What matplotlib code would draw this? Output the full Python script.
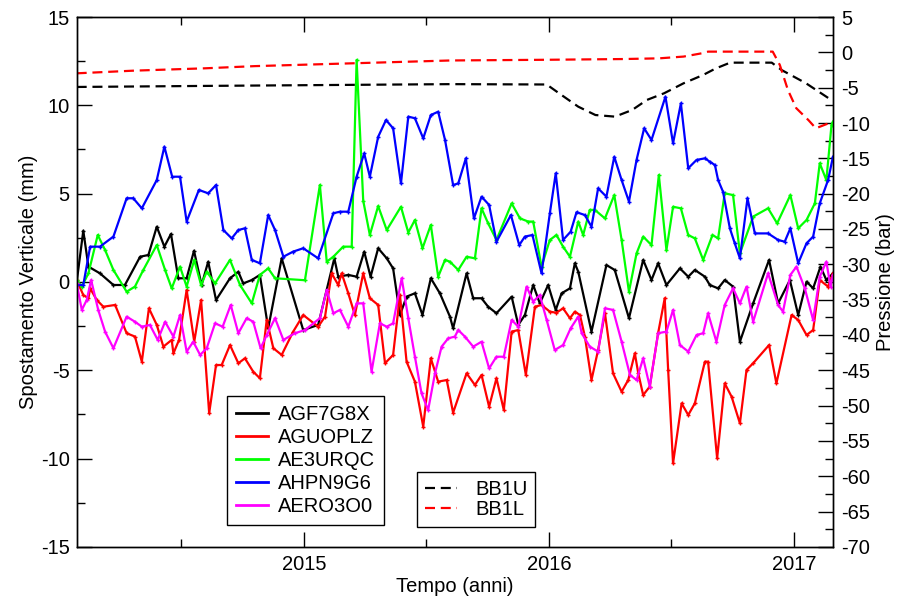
import matplotlib
matplotlib.use('Agg')
import matplotlib.pyplot as plt
from matplotlib.ticker import MultipleLocator, FuncFormatter
from matplotlib.lines import Line2D

plt.rcParams['font.family'] = ['Liberation Sans', 'DejaVu Sans']
plt.rcParams['axes.unicode_minus'] = False

# ---------------- data ----------------
agf_t = [2014.072, 2014.099, 2014.120, 2014.167, 2014.222, 2014.269, 2014.331, 2014.365, 2014.399, 2014.430,
         2014.457, 2014.487, 2014.521, 2014.551, 2014.582, 2014.609, 2014.641, 2014.698, 2014.732, 2014.752,
         2014.787, 2014.820, 2014.854, 2014.909, 2014.997, 2015.058, 2015.124, 2015.140, 2015.181, 2015.215,
         2015.246, 2015.272, 2015.303, 2015.338, 2015.364, 2015.392, 2015.419, 2015.453, 2015.484, 2015.518,
         2015.555, 2015.596, 2015.609, 2015.664, 2015.691, 2015.725, 2015.752, 2015.786, 2015.848, 2015.875,
         2015.902, 2015.936, 2015.963, 2015.997, 2016.028, 2016.052, 2016.086, 2016.106, 2016.120, 2016.174,
         2016.235, 2016.269, 2016.327, 2016.385, 2016.419, 2016.446, 2016.480, 2016.535, 2016.569, 2016.596,
         2016.637, 2016.657, 2016.691, 2016.718, 2016.752, 2016.780, 2016.834, 2016.899, 2016.936, 2016.984,
         2017.018, 2017.052, 2017.079, 2017.109, 2017.133, 2017.160]
agf_v = [0.0, 2.9, 0.87, 0.49, -0.17, -0.17, 1.43, 1.53, 3.13, 2.0,
         2.72, 0.21, 0.21, 1.77, -0.17, 1.15, -1.02, 0.21, 0.58, -0.08,
         0.11, 0.40, -2.62, 1.34, -2.72, -2.43, 1.34, 0.30, 0.40, 0.30,
         1.72, 0.30, 1.91, 1.34, 0.77, -1.87, -0.83, -0.64, -1.87, 0.21,
         -0.64, -1.96, -2.62, 0.49, -0.92, -0.92, -1.40, -1.77, -0.83, -2.43,
         -1.87, -0.17, -1.21, -0.17, -1.58, -0.64, -0.36, 1.06, 0.58, -2.81,
         0.96, 0.68, -2.05, 1.25, 0.11, 1.06, -0.17, 0.77, 0.30, 0.68,
         0.30, -0.17, -0.36, 0.11, -0.26, -3.38, -1.21, 1.25, -1.21, 0.11,
         -1.87, 0.02, -0.36, 0.87, 0.11, 0.49]

agu_t = [2014.072, 2014.099, 2014.120, 2014.127, 2014.154, 2014.181, 2014.229, 2014.276, 2014.310, 2014.338,
         2014.367, 2014.399, 2014.426, 2014.460, 2014.467, 2014.490, 2014.521, 2014.552, 2014.580, 2014.613,
         2014.641, 2014.664, 2014.698, 2014.732, 2014.759, 2014.793, 2014.820, 2014.848, 2014.875, 2014.909,
         2014.956, 2014.997, 2015.058, 2015.086, 2015.113, 2015.140, 2015.154, 2015.181, 2015.208, 2015.242,
         2015.269, 2015.303, 2015.331, 2015.364, 2015.392, 2015.419, 2015.453, 2015.487, 2015.518, 2015.548,
         2015.583, 2015.609, 2015.664, 2015.698, 2015.725, 2015.756, 2015.786, 2015.816, 2015.848, 2015.875,
         2015.906, 2015.943, 2015.970, 2016.004, 2016.031, 2016.058, 2016.086, 2016.106, 2016.127, 2016.147,
         2016.174, 2016.201, 2016.229, 2016.262, 2016.297, 2016.324, 2016.351, 2016.365, 2016.385, 2016.412,
         2016.446, 2016.473, 2016.487, 2016.507, 2016.542, 2016.569, 2016.596, 2016.637, 2016.650, 2016.687,
         2016.718, 2016.746, 2016.780, 2016.807, 2016.834, 2016.899, 2016.929, 2016.991, 2017.018, 2017.052,
         2017.079, 2017.106, 2017.140, 2017.160]
agu_v = [0.11, -0.74, -0.92, -0.36, -1.02, -1.40, -1.30, -2.90, -3.09, -4.51,
         -1.49, -2.43, -3.66, -3.28, -4.04, -3.28, -0.45, -3.38, -1.02, -7.43,
         -4.70, -4.70, -3.57, -4.60, -4.32, -5.08, -5.45, -2.15, -3.75, -4.13,
         -2.81, -1.87, -2.53, -1.96, 0.49, -0.17, 0.49, -0.64, -1.87, 0.49,
         -0.92, -1.30, -4.60, -4.13, -0.74, -4.51, -5.64, -8.19, -4.32, -5.64,
         -5.55, -7.40, -5.17, -5.83, -5.26, -7.06, -5.45, -7.25, -2.81, -2.72,
         -5.26, -1.40, -1.30, -1.68, -1.74, -1.49, -2.05, -1.68, -1.87, -3.09,
         -5.55, -3.85, -1.77, -5.17, -6.21, -5.55, -4.04, -5.17, -6.40, -5.92,
         -2.90, -0.92, -4.98, -10.26, -6.87, -7.53, -6.87, -4.51, -4.51, -9.98,
         -5.74, -6.49, -8.00, -4.98, -4.60, -3.57, -5.74, -1.87, -2.15, -3.00,
         -2.72, 0.11, -0.26, 0.49]

ae3_t = [2014.072, 2014.093, 2014.120, 2014.158, 2014.188, 2014.222, 2014.276, 2014.310, 2014.344, 2014.399,
         2014.433, 2014.460, 2014.494, 2014.521, 2014.552, 2014.580, 2014.603, 2014.637, 2014.698, 2014.739,
         2014.787, 2014.820, 2014.854, 2014.882, 2015.004, 2015.065, 2015.093, 2015.120, 2015.160, 2015.195,
         2015.215, 2015.242, 2015.269, 2015.303, 2015.338, 2015.396, 2015.426, 2015.453, 2015.484, 2015.518,
         2015.548, 2015.576, 2015.596, 2015.630, 2015.664, 2015.698, 2015.725, 2015.752, 2015.786, 2015.848,
         2015.882, 2015.916, 2015.936, 2015.970, 2016.004, 2016.031, 2016.058, 2016.086, 2016.120, 2016.140,
         2016.167, 2016.188, 2016.229, 2016.267, 2016.297, 2016.327, 2016.358, 2016.385, 2016.419, 2016.449,
         2016.480, 2016.507, 2016.539, 2016.569, 2016.596, 2016.630, 2016.668, 2016.691, 2016.718, 2016.752,
         2016.780, 2016.834, 2016.895, 2016.932, 2016.986, 2017.018, 2017.052, 2017.086, 2017.106, 2017.133,
         2017.154, 2017.160]
ae3_v = [0.11, -0.26, 0.49, 2.66, 1.81, 0.68, -0.55, -0.26, 0.68, 2.09,
         0.68, -0.36, 0.87, -0.26, 1.25, -0.17, 0.58, -0.08, 1.25, -0.17,
         -1.21, 0.40, 0.77, 0.21, 0.10, 5.49, 1.15, 1.43, 2.00, 2.00,
         12.57, 4.60, 2.66, 4.30, 2.94, 4.26, 2.80, 3.51, 1.91, 3.23,
         0.30, 1.25, 1.15, 0.68, 1.43, 1.34, 4.17, 3.32, 2.38, 4.45,
         3.60, 3.42, 3.42, 0.87, 2.38, 2.66, 2.00, 1.43, 3.42, 2.66,
         4.08, 4.08, 3.60, 4.92, 2.38, -0.55, 1.62, 2.57, 2.09, 6.06,
         1.81, 4.26, 4.17, 2.66, 2.47, 1.25, 2.66, 2.47, 5.02, 4.92,
         1.62, 3.70, 4.17, 3.32, 4.92, 3.04, 3.51, 4.45, 6.72, 5.77,
         8.89, 9.08]

ahp_t = [2014.072, 2014.099, 2014.127, 2014.167, 2014.222, 2014.276, 2014.303, 2014.338, 2014.399, 2014.430,
         2014.462, 2014.494, 2014.521, 2014.571, 2014.609, 2014.641, 2014.671, 2014.705, 2014.732, 2014.759,
         2014.787, 2014.820, 2014.854, 2014.882, 2014.916, 2014.956, 2014.997, 2015.058, 2015.120, 2015.147,
         2015.181, 2015.215, 2015.246, 2015.269, 2015.303, 2015.335, 2015.364, 2015.396, 2015.426, 2015.453,
         2015.487, 2015.518, 2015.548, 2015.576, 2015.609, 2015.630, 2015.661, 2015.694, 2015.725, 2015.756,
         2015.786, 2015.845, 2015.879, 2015.902, 2015.933, 2015.970, 2016.004, 2016.028, 2016.058, 2016.089,
         2016.113, 2016.147, 2016.174, 2016.201, 2016.235, 2016.267, 2016.297, 2016.327, 2016.358, 2016.389,
         2016.419, 2016.476, 2016.507, 2016.539, 2016.569, 2016.603, 2016.637, 2016.657, 2016.678, 2016.691,
         2016.711, 2016.739, 2016.759, 2016.780, 2016.811, 2016.841, 2016.895, 2016.936, 2016.963, 2016.986,
         2017.018, 2017.052, 2017.079, 2017.106, 2017.140, 2017.160]
ahp_v = [-0.17, -0.17, 2.00, 2.00, 2.57, 4.74, 4.74, 4.17, 5.77, 7.66,
         5.96, 5.96, 3.42, 5.21, 5.02, 5.49, 2.94, 2.47, 2.94, 3.04,
         1.25, 1.06, 3.79, 2.94, 1.43, 1.72, 1.91, 1.34, 3.89, 3.98,
         3.98, 5.96, 7.28, 5.96, 8.22, 9.17, 8.70, 5.58, 9.36, 9.27,
         8.13, 9.45, 9.64, 8.04, 5.49, 5.58, 7.00, 3.60, 4.83, 4.36,
         2.28, 3.79, 2.09, 2.57, 2.66, 0.49, 3.89, 6.15, 2.38, 2.85,
         3.95, 3.79, 3.13, 5.30, 4.83, 7.09, 5.77, 4.55, 6.91, 8.70,
         8.04, 10.49, 7.85, 10.11, 6.44, 6.91, 7.00, 6.81, 6.62, 5.77,
         5.11, 3.04, 2.19, 1.34, 4.74, 2.75, 2.75, 2.38, 2.28, 3.04,
         1.06, 2.19, 2.57, 4.45, 5.77, 7.09]

aer_t = [2014.072, 2014.093, 2014.113, 2014.131, 2014.160, 2014.188, 2014.222, 2014.276, 2014.310, 2014.338,
         2014.371, 2014.403, 2014.433, 2014.467, 2014.494, 2014.521, 2014.548, 2014.576, 2014.603, 2014.637,
         2014.668, 2014.701, 2014.732, 2014.766, 2014.793, 2014.823, 2014.848, 2014.882, 2014.916, 2014.963,
         2015.004, 2015.065, 2015.093, 2015.120, 2015.147, 2015.181, 2015.215, 2015.242, 2015.276, 2015.310,
         2015.338, 2015.364, 2015.399, 2015.426, 2015.453, 2015.480, 2015.507, 2015.535, 2015.562, 2015.589,
         2015.616, 2015.630, 2015.657, 2015.691, 2015.725, 2015.756, 2015.786, 2015.816, 2015.848, 2015.875,
         2015.909, 2015.936, 2015.963, 2015.991, 2016.024, 2016.058, 2016.089, 2016.120, 2016.134, 2016.167,
         2016.201, 2016.229, 2016.262, 2016.297, 2016.331, 2016.358, 2016.385, 2016.412, 2016.446, 2016.480,
         2016.507, 2016.535, 2016.569, 2016.603, 2016.630, 2016.650, 2016.684, 2016.718, 2016.752, 2016.780,
         2016.807, 2016.834, 2016.895, 2016.936, 2016.956, 2016.986, 2017.011, 2017.045, 2017.079, 2017.106,
         2017.133, 2017.150, 2017.160]
aer_v = [-0.08, -1.58, -1.02, 0.11, -1.58, -2.81, -3.75, -1.96, -2.25, -2.53,
         -2.43, -3.28, -2.25, -3.09, -1.87, -3.94, -3.38, -4.13, -3.75, -2.34,
         -2.53, -1.30, -2.90, -2.05, -2.25, -3.75, -3.00, -2.05, -3.28, -2.90,
         -2.72, -2.05, -0.45, -1.77, -1.58, -2.53, -1.21, -1.21, -5.08, -2.34,
         -2.53, -2.34, 0.21, -2.05, -4.23, -6.30, -7.25, -5.17, -3.66, -3.19,
         -3.09, -2.72, -3.09, -3.66, -3.38, -4.89, -4.23, -4.23, -2.15, -2.53,
         -0.26, -1.11, -0.74, -2.15, -3.85, -3.57, -2.62, -1.96, -2.90, -3.66,
         -3.94, -1.49, -1.58, -3.38, -5.26, -5.55, -4.32, -5.92, -2.90, -2.81,
         -1.58, -3.57, -3.94, -3.00, -2.90, -1.77, -3.38, -1.30, -0.36, -1.21,
         -0.26, -2.25, 0.49, -1.30, -1.68, 0.40, 0.87, -0.36, -2.15, 0.30,
         1.15, -0.26, 0.40]

bb1u_t = [2014.072, 2014.600, 2015.200, 2015.600, 2015.991, 2016.050, 2016.120, 2016.190, 2016.270, 2016.340,
          2016.400, 2016.470, 2016.550, 2016.630, 2016.680, 2016.740, 2016.910, 2016.950, 2017.050, 2017.160]
bb1u_v = [-4.90, -4.75, -4.60, -4.50, -4.55, -6.00, -7.69, -8.87, -9.10, -8.16,
          -6.74, -5.80, -4.38, -3.20, -2.30, -1.46, -1.46, -2.50, -4.38, -6.90]

bb1l_t = [2014.072, 2014.300, 2014.596, 2014.800, 2015.100, 2015.400, 2015.600, 2016.000, 2016.300, 2016.450,
          2016.550, 2016.630, 2016.650, 2016.914, 2016.943, 2016.976, 2017.010, 2017.060, 2017.090, 2017.160]
bb1l_v = [-2.97, -2.60, -2.26, -1.95, -1.65, -1.35, -1.15, -1.05, -0.95, -0.85,
          -0.60, -0.10, 0.10, 0.10, -1.79, -5.33, -7.90, -9.60, -10.75, -9.80]

solid_labels = ['AGF7G8X', 'AGUOPLZ', 'AE3URQC', 'AHPN9G6', 'AERO3O0']
solid_colors = ['#000000', '#ff0000', '#00ff00', '#0000ff', '#ff00ff']
dash_labels = ['BB1U', 'BB1L']
dash_colors = ['#000000', '#ff0000']

# ---------------- figure ----------------
fig = plt.figure(figsize=(9.01, 6.01), dpi=100)
ax = fig.add_axes([0.0851, 0.0899, 0.8394, 0.8818])
ax2 = ax.twinx()
ax.set_zorder(ax2.get_zorder() + 1)
ax.patch.set_visible(False)

FS = 14.5
LW = 1.6
DASH = (0, (4.5, 2.6))

# dashed (right axis)
for t, v, c in zip([bb1u_t, bb1l_t], [bb1u_v, bb1l_v], dash_colors):
    ax2.plot(t, v, color=c, lw=LW, linestyle=DASH)

# solid (left axis)
for t, v, c in zip([agf_t, agu_t, ae3_t, ahp_t, aer_t],
                   [agf_v, agu_v, ae3_v, ahp_v, aer_v], solid_colors):
    ax.plot(t, v, color=c, lw=LW, marker='+', ms=3.5, mew=1.0)

ax.set_xlim(2014.072, 2017.16)
ax.set_ylim(-15, 15)
ax2.set_ylim(-70, 5)

ax.xaxis.set_major_locator(MultipleLocator(1))
ax.xaxis.set_minor_locator(MultipleLocator(0.5))
ax.yaxis.set_major_locator(MultipleLocator(5))
ax.yaxis.set_minor_locator(MultipleLocator(2.5))
ax2.yaxis.set_major_locator(MultipleLocator(5))
ax2.yaxis.set_minor_locator(MultipleLocator(2.5))

ax.tick_params(axis='both', which='both', direction='in', labelsize=FS, width=1.0)
ax.tick_params(axis='x', which='both', top=True, bottom=True)
ax.tick_params(axis='y', which='both', left=True, right=False)
ax.tick_params(which='major', length=11)
ax.tick_params(which='minor', length=6)
ax.tick_params(axis='x', pad=6)
ax.tick_params(axis='y', pad=5)
ax2.tick_params(axis='y', which='both', direction='in', labelsize=FS, width=1.0, pad=6)
ax2.tick_params(which='major', length=11)
ax2.tick_params(which='minor', length=6)

ax.xaxis.set_major_formatter(FuncFormatter(lambda x, p: f'{int(round(x))}'))

for sp in ax.spines.values():
    sp.set_linewidth(1.0)
for sp in ax2.spines.values():
    sp.set_linewidth(1.0)

ax.set_xlabel('Tempo (anni)', fontsize=FS, labelpad=2)
ax.set_ylabel('Spostamento Verticale (mm)', fontsize=FS, labelpad=2)
ax2.set_ylabel('Pressione (bar)', fontsize=FS, labelpad=4)

solid_handles = [Line2D([], [], color=c, lw=2.0) for c in solid_colors]
dash_handles = [Line2D([], [], color=c, lw=LW, linestyle=DASH) for c in dash_colors]

leg1 = ax.legend(solid_handles, solid_labels, loc='upper left', bbox_to_anchor=(0.2516, 0.3416),
                 bbox_transform=fig.transFigure, borderaxespad=0, fontsize=FS,
                 frameon=True, fancybox=False, edgecolor='black', framealpha=1,
                 handlelength=1.6, handletextpad=0.5, labelspacing=0.2, borderpad=0.45)
leg1.get_frame().set_linewidth(1.0)

leg2 = ax2.legend(dash_handles, dash_labels, loc='upper left', bbox_to_anchor=(0.4625, 0.2151),
                  bbox_transform=fig.transFigure, borderaxespad=0, fontsize=FS,
                  frameon=True, fancybox=False, edgecolor='black', framealpha=1,
                  handlelength=1.6, handletextpad=0.9, labelspacing=0.05, borderpad=0.4)
leg2.get_frame().set_linewidth(1.0)

fig.savefig('out.png', dpi=100)
